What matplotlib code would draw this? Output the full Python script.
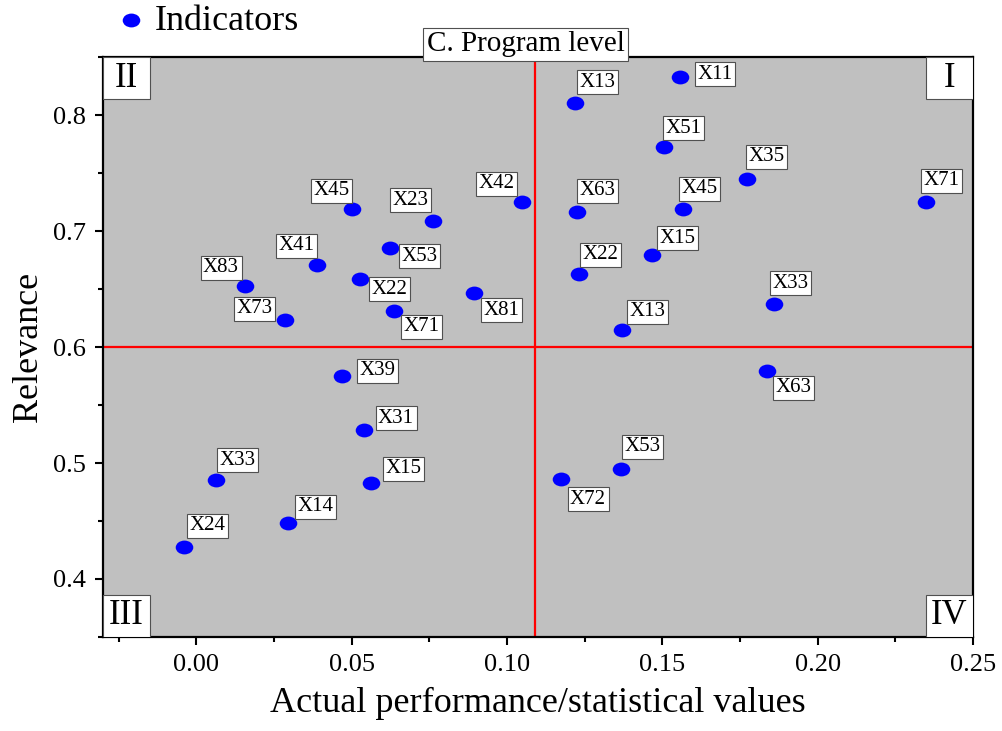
import matplotlib
matplotlib.use('Agg')
import matplotlib.pyplot as plt
from matplotlib.path import Path
from matplotlib.patches import Rectangle
from matplotlib.transforms import Affine2D
from matplotlib.ticker import MultipleLocator, FormatStrFormatter

plt.rcParams['font.family'] = ['Liberation Serif', 'DejaVu Serif']

# indicator names with their (performance, relevance) coordinates
names = ['X13', 'X11', 'X51', 'X35', 'X71', 'X63', 'X45', 'X15', 'X22', 'X33', 'X13', 'X63',
         'X45', 'X23', 'X42', 'X41', 'X53', 'X83', 'X22', 'X81', 'X73', 'X71',
         'X39', 'X31', 'X33', 'X15', 'X14', 'X24', 'X72', 'X53']
perf = [0.122, 0.1557, 0.1504, 0.1774, 0.2348, 0.1225, 0.1566, 0.1468, 0.1233, 0.1858, 0.137, 0.1836,
        0.0502, 0.0762, 0.1048, 0.0389, 0.0623, 0.0157, 0.0526, 0.0893, 0.0287, 0.0636,
        0.0469, 0.054, 0.0065, 0.0563, 0.0296, -0.0039, 0.1174, 0.1368]
relev = [0.810, 0.8325, 0.772, 0.745, 0.7253, 0.7167, 0.719, 0.679, 0.663, 0.637, 0.615, 0.5796,
         0.719, 0.7086, 0.7253, 0.6707, 0.685, 0.6526, 0.6586, 0.6463, 0.6233, 0.6313,
         0.5753, 0.5284, 0.4853, 0.483, 0.4485, 0.428, 0.486, 0.495]

# quadrant split values
x_split = 0.109
y_split = 0.6

# label placement relative to its point, in pixels (dx right, dy down)
label_offsets = [(22, -21), (35, -3), (20, -19), (19, -22), (16, -21), (21, -21), (17, -20), (25, -17),
                 (21, -19), (17, -21), (26, -18), (27, 17),
                 (-21, -18), (-22, -21), (-25, -18), (-21, -19), (30, 8), (-24, -18), (30, 10),
                 (28, 17), (-31, -11), (28, 16),
                 (36, -5), (32, -12), (21, -20), (32, -14), (27, -16), (23, -21), (27, 20), (21, -22)]

fig = plt.figure(figsize=(10.03, 7.31), dpi=100)
ax = fig.add_axes([0.1027, 0.1286, 0.8674, 0.7934])
ax.set_facecolor('#c0c0c0')

# slightly wide ellipse marker like the original
ellipse = Path.unit_circle().transformed(Affine2D().scale(1.27, 1.0))

ax.axvline(x_split, color='#ff0000', lw=1.6, zorder=2)
ax.axhline(y_split, color='#ff0000', lw=1.6, zorder=2)
ax.scatter(perf, relev, s=160, marker=ellipse, color='#0000ff', lw=0, zorder=3, label='Indicators')

for name, xv, yv, (dx, dy) in zip(names, perf, relev, label_offsets):
    ax.annotate(name, (xv, yv), xytext=(dx * 0.72, -dy * 0.72), textcoords='offset points',
                ha='center', va='center', fontsize=15, zorder=4,
                bbox=dict(boxstyle='square,pad=0.12', fc='white', ec='#505050', lw=0.8))

ax.set_xlim(-0.03, 0.25)
ax.set_ylim(0.35, 0.85)
ax.xaxis.set_major_locator(MultipleLocator(0.05))
ax.xaxis.set_minor_locator(MultipleLocator(0.025))
ax.yaxis.set_major_locator(MultipleLocator(0.1))
ax.yaxis.set_minor_locator(MultipleLocator(0.05))
ax.xaxis.set_major_formatter(FormatStrFormatter('%.2f'))
ax.yaxis.set_major_formatter(FormatStrFormatter('%.1f'))
ax.tick_params(which='major', length=6, width=1.5, labelsize=19, pad=6)
ax.tick_params(which='minor', length=3.5, width=1.5)
for sp in ax.spines.values():
    sp.set_linewidth(1.6)

ax.set_xlabel('Actual performance/statistical values', fontsize=26, labelpad=8)
ax.set_ylabel('Relevance', fontsize=26, labelpad=6)

# quadrant markers in the corners
box_w, box_h = 0.054, 0.0724
corners = [('I', 1 - box_w, 1 - box_h), ('II', 0, 1 - box_h), ('III', 0, 0), ('IV', 1 - box_w, 0)]
for txt, bx, by in corners:
    ax.add_patch(Rectangle((bx, by), box_w, box_h, transform=ax.transAxes, fc='white',
                           ec='#505050', lw=0.8, zorder=5))
    ax.text(bx + box_w / 2, by + box_h / 2, txt, transform=ax.transAxes, ha='center',
            va='center', fontsize=25, zorder=6)

ax.text(0.486, 1.0, 'C. Program level', transform=ax.transAxes, ha='center', va='bottom',
        fontsize=21, zorder=6, clip_on=False,
        bbox=dict(boxstyle='square,pad=0.12', fc='white', ec='#505050', lw=0.8))

fig.legend(loc='center left', bbox_to_anchor=(120 / 1003, 1 - 21 / 731), frameon=False,
           fontsize=26, borderpad=0, borderaxespad=0, handlelength=0.6, handletextpad=0.35)

fig.savefig('out.png', dpi=100)
